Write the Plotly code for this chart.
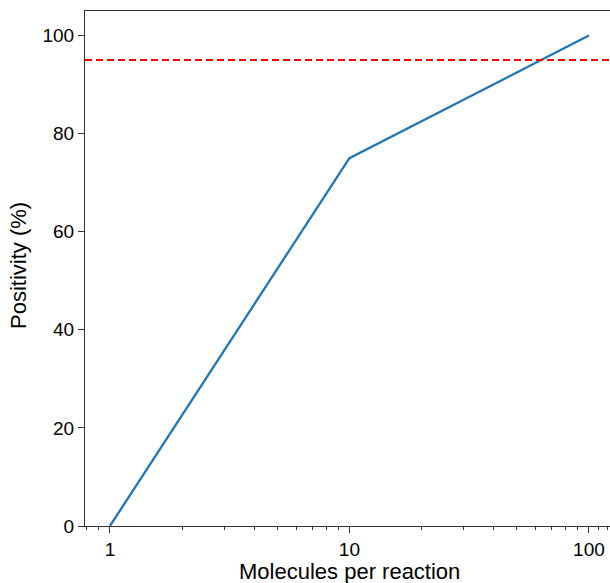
import plotly.graph_objects as go

molecules = [1, 10, 100]
positivity = [0, 75, 100]
threshold = 95
x_ticks = [1, 10, 100]
x_tick_labels = ["1", "10", "100"]
y_ticks = [0, 20, 40, 60, 80, 100]
minor_x = [0.8, 0.9] + [m * d for d in (1, 10) for m in range(2, 10)] + [110, 120]

L, T, W, H = 85, 11, 525, 515  # plot area in pixels

fig = go.Figure()
fig.add_trace(go.Scatter(x=molecules, y=positivity, mode="lines",
                         line=dict(color="#1f77b4", width=2.3), showlegend=False))
fig.add_shape(type="line", xref="paper", x0=0, x1=1, yref="y", y0=threshold, y1=threshold,
              line=dict(color="red", width=2, dash="7px,4px"))

tick_font = dict(family="Liberation Sans, Arial, sans-serif", size=19, color="black")
title_font = dict(family="Liberation Sans, Arial, sans-serif", size=22, color="black")

fig.add_annotation(text="Molecules per reaction", xref="paper", yref="paper",
                   x=(349 - L) / W, y=(T + H - 571) / H, xanchor="center", yanchor="middle",
                   showarrow=False, font=title_font)
fig.add_annotation(text="Positivity (%)", xref="paper", yref="paper",
                   x=(18 - L) / W, y=(T + H - 266) / H, xanchor="center", yanchor="middle",
                   textangle=-90, showarrow=False, font=title_font)

fig.update_layout(
    width=610, height=583,
    margin=dict(l=L, r=610 - L - W, t=T, b=583 - T - H, autoexpand=False),
    plot_bgcolor="white", paper_bgcolor="white",
    font=tick_font,
    xaxis=dict(type="log", range=[-0.104, -0.104 + W / 239.5], automargin=False,
               tickvals=x_ticks, ticktext=x_tick_labels, tickfont=tick_font,
               ticks="outside", ticklen=6, tickwidth=1, tickcolor="#333",
               showline=True, linecolor="#333", linewidth=1.2, mirror=True,
               showgrid=False, zeroline=False,
               minor=dict(tickvals=minor_x, ticks="outside", ticklen=3, tickwidth=1,
                          tickcolor="#333", showgrid=False)),
    yaxis=dict(range=[0, 105], tickvals=y_ticks, automargin=False, tickfont=tick_font,
               ticks="outside", ticklen=6, tickwidth=1, tickcolor="#333",
               showline=True, linecolor="#333", linewidth=1.2,
               showgrid=False, zeroline=False),
)
fig.write_html("out.html", config={"displayModeBar": False},
               post_script="document.body.style.margin='0';document.body.style.overflow='hidden';")
